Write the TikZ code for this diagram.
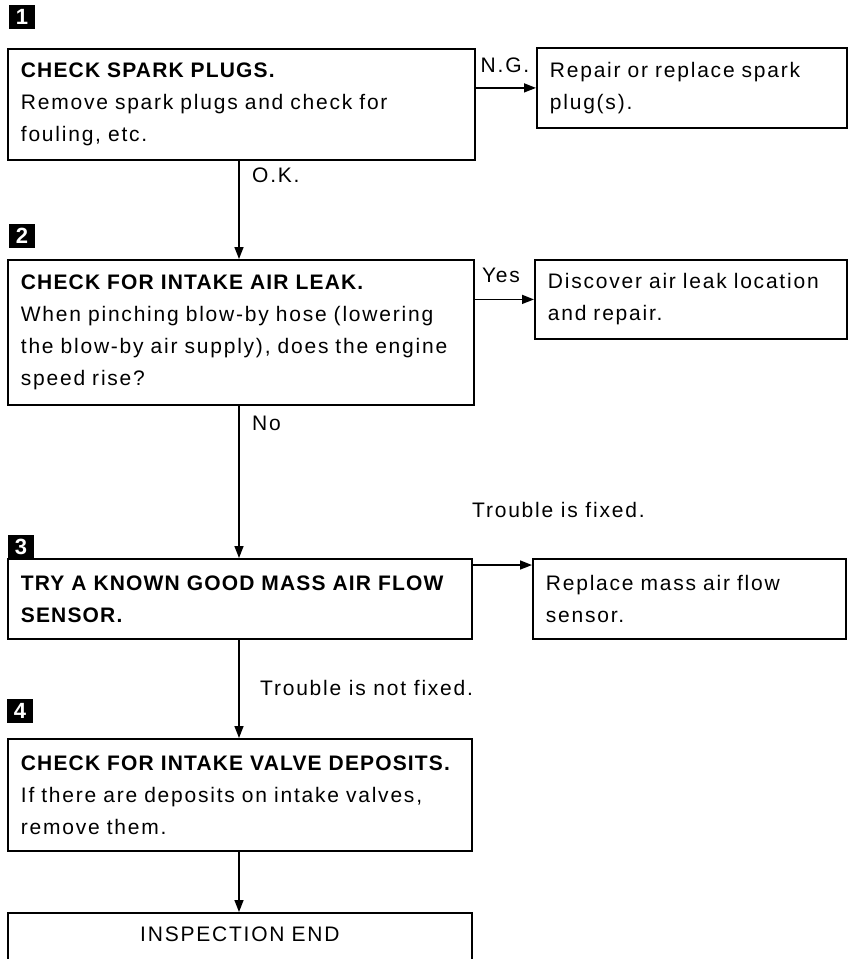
\documentclass[tikz,border=0pt]{standalone}
\usepackage{fontspec}
\setmainfont{Liberation Sans}[LetterSpace=8.5,BoldFeatures={LetterSpace=5.5}]
\usetikzlibrary{arrows.meta,positioning}

\begin{document}
\begin{tikzpicture}[x=1pt,y=-1pt,>={Triangle[length=12pt,width=9pt]},
  font=\fontsize{21}{32}\selectfont,
  box/.style={draw,line width=1.8pt,align=left,inner xsep=13pt,inner ysep=0pt,anchor=north west},
  stepmark/.style={fill=black,text=white,font=\fontsize{22}{22}\selectfont\bfseries,
    minimum width=26pt,minimum height=24pt,inner sep=0pt},
  flow/.style={->,line width=1.6pt},
  lbl/.style={inner sep=0pt}]
  \useasboundingbox (0,0) rectangle (848,959);

  % Step numbers
  \node[stepmark] (m1) at (22,17) {1};
  \node[stepmark] (m2) at (22,236) {2};
  \node[stepmark] (m3) at (21,547) {3};
  \node[stepmark] (m4) at (20,711) {4};

  % Main checks
  \node[box,text width=441pt,minimum height=111pt] (spark) at (7,48)
    {\textbf{CHECK SPARK PLUGS.}\\Remove spark plugs and check for\\fouling, etc.};
  \node[box,text width=440pt,minimum height=145pt] (leak) at (7,259)
    {\textbf{CHECK FOR INTAKE AIR LEAK.}\\When pinching blow-by hose (lowering\\the blow-by air supply), does the engine\\speed rise?};
  \node[box,text width=438pt,minimum height=80pt] (maf) at (7,558)
    {\textbf{TRY A KNOWN GOOD MASS AIR FLOW}\\\textbf{SENSOR.}};
  \node[box,text width=438pt,minimum height=112pt] (valve) at (7,738)
    {\textbf{CHECK FOR INTAKE VALVE DEPOSITS.}\\If there are deposits on intake valves,\\remove them.};
  \node[box,align=center,text width=438pt,minimum height=60pt,text depth=18pt] (done) at (7,912)
    {INSPECTION END};

  % Repairs
  \node[box,text width=284pt,minimum height=80pt] (plugfix) at (536,47)
    {Repair or replace spark\\plug(s).};
  \node[box,text width=286pt,minimum height=79pt] (leakfix) at (534,259)
    {Discover air leak location\\and repair.};
  \node[box,text width=287pt,minimum height=80pt] (maffix) at (532,558)
    {Replace mass air flow\\sensor.};

  % Connectors
  \coordinate (spine) at (239,0);
  \draw[flow] (spark.south -| spine) -- (leak.north -| spine);
  \draw[flow] (leak.south -| spine) -- (maf.north -| spine);
  \draw[flow] (maf.south -| spine) -- (valve.north -| spine);
  \draw[flow] (valve.south -| spine) -- (done.north -| spine);
  \draw[flow] (spark.east |- plugfix.west) -- (plugfix.west);
  \draw[flow] (leak.east |- leakfix.west) -- (leakfix.west);
  \draw[flow] ([yshift=-7pt]maf.north east) -- ([yshift=-7pt]maffix.north west);

  % Labels
  \node[lbl] (ng) at (505,65) {N.G.};
  \node[lbl] (yes) at (501,275) {Yes};
  \node[lbl,anchor=west] (ok) at (252,175) {O.K.};
  \node[lbl,anchor=west] (no) at (252,423) {No};
  \node[lbl,anchor=west] (fixed) at (472,510) {Trouble is fixed.};
  \node[lbl,anchor=west] (notfixed) at (260,688) {Trouble is not fixed.};
\end{tikzpicture}
\end{document}
